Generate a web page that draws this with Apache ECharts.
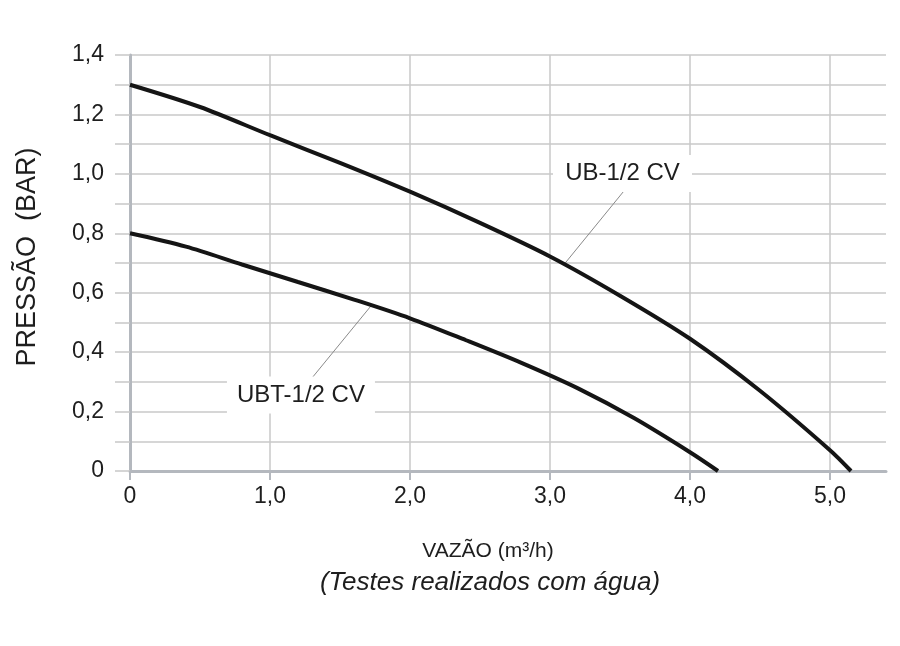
<!DOCTYPE html>
<html>
<head>
<meta charset="utf-8">
<script src="https://cdn.jsdelivr.net/npm/echarts@6/dist/echarts.min.js"></script>
<style>
html,body{margin:0;padding:0;background:#fff;}
#chart{width:900px;height:646px;}
</style>
</head>
<body>
<div id="chart"></div>
<script>
// ---- data ----
const ubFlow      = [0, 0.5, 1.0, 1.5, 2.0, 2.5, 3.0, 3.5, 4.0, 4.5, 5.0, 5.15];
const ubPressure  = [1.30, 1.225, 1.13, 1.037, 0.94, 0.835, 0.722, 0.59, 0.445, 0.27, 0.07, 0.0];
const ubtFlow     = [0, 0.4, 0.8, 1.2, 1.6, 2.0, 2.4, 2.8, 3.2, 3.6, 4.0, 4.2];
const ubtPressure = [0.80, 0.755, 0.695, 0.636, 0.577, 0.514, 0.44, 0.363, 0.278, 0.178, 0.063, 0.0];
const xTickValues = [0, 1, 2, 3, 4, 5];
const yTickValues = [0, 0.2, 0.4, 0.6, 0.8, 1.0, 1.2, 1.4];
const ubName  = 'UB-1/2 CV';
const ubtName = 'UBT-1/2 CV';
const ubLabelPos   = [3.518, 1.001];
const ubLeader     = [[3.524, 0.940], [3.107, 0.699]];
const ubtLabelPos  = [1.221, 0.256];
const ubtLeader    = [[1.298, 0.312], [1.729, 0.560]];
const xTitle = 'VAZÃO (m³/h)';
const yTitle = 'PRESSÃO  (BAR)';
const subTitle = '(Testes realizados com água)';

const FONT = '"Liberation Sans", Arial, Helvetica, sans-serif';
const GRID = '#c8c8c8';
const AXIS = '#b4b8be';
const TEXT = '#1e1e1e';
const fmt = v => (v === 0 ? '0' : v.toFixed(1).replace('.', ','));

const chart = echarts.init(document.getElementById('chart'), null, {renderer: 'canvas'});

function labelMark(name, pos, w) {
  return {
    silent: true,
    animation: false,
    data: [{
      coord: pos,
      symbol: 'rect',
      symbolSize: [w, 37],
      itemStyle: {color: '#ffffff'},
      label: {show: true, position: 'inside', formatter: name, color: TEXT, fontSize: 24, fontFamily: FONT}
    }]
  };
}
function leader(seg) {
  return {
    silent: true,
    animation: false,
    symbol: ['none', 'none'],
    lineStyle: {color: '#8a8a8a', width: 1, type: 'solid'},
    label: {show: false},
    emphasis: {disabled: true},
    data: [[{coord: seg[0]}, {coord: seg[1]}]]
  };
}

chart.setOption({
  animation: false,
  backgroundColor: '#ffffff',
  grid: {left: 130, right: 14, top: 55, bottom: 175, containLabel: false},
  xAxis: {
    type: 'value', min: 0, max: 5.4, interval: 0.2,
    axisLine: {show: true, onZero: true, lineStyle: {color: AXIS, width: 3}},
    axisTick: {show: true, customValues: xTickValues, length: 9, lineStyle: {color: AXIS, width: 2}},
    axisLabel: {show: true, customValues: xTickValues, formatter: fmt, margin: 14,
      color: TEXT, fontSize: 23, fontFamily: FONT},
    splitLine: {show: true, lineStyle: {color: GRID, width: 1.5}}
  },
  yAxis: {
    type: 'value', min: 0, max: 1.4, interval: 0.1,
    name: yTitle, nameLocation: 'middle', nameGap: 89, nameRotate: 90,
    nameTextStyle: {color: TEXT, fontSize: 27, fontFamily: FONT, padding: [0, 0, 0, 12]},
    axisLine: {show: true, lineStyle: {color: AXIS, width: 3}},
    axisTick: {show: true, length: 15, lineStyle: {color: GRID, width: 1.5}},
    axisLabel: {show: true, customValues: yTickValues, formatter: fmt, margin: 26,
      color: TEXT, fontSize: 23, fontFamily: FONT},
    splitLine: {show: true, lineStyle: {color: GRID, width: 1.5}}
  },
  graphic: [
    {type: 'text', x: 488, y: 551, style: {text: xTitle, fill: TEXT, font: '21px ' + FONT, textAlign: 'center', textVerticalAlign: 'middle'}},
    {type: 'text', x: 490, y: 583, style: {text: subTitle, fill: TEXT, font: 'italic 26px ' + FONT, textAlign: 'center', textVerticalAlign: 'middle'}}
  ],
  series: [
    {
      name: ubName, type: 'line', smooth: 0.3, showSymbol: false, z: 5,
      lineStyle: {color: '#151515', width: 4}, itemStyle: {color: '#151515'},
      data: ubFlow.map((x, i) => [x, ubPressure[i]]),
      markPoint: labelMark(ubName, ubLabelPos, 139),
      markLine: leader(ubLeader)
    },
    {
      name: ubtName, type: 'line', smooth: 0.3, showSymbol: false, z: 5,
      lineStyle: {color: '#151515', width: 4}, itemStyle: {color: '#151515'},
      data: ubtFlow.map((x, i) => [x, ubtPressure[i]]),
      markPoint: labelMark(ubtName, ubtLabelPos, 148),
      markLine: leader(ubtLeader)
    }
  ]
});
</script>
</body>
</html>
